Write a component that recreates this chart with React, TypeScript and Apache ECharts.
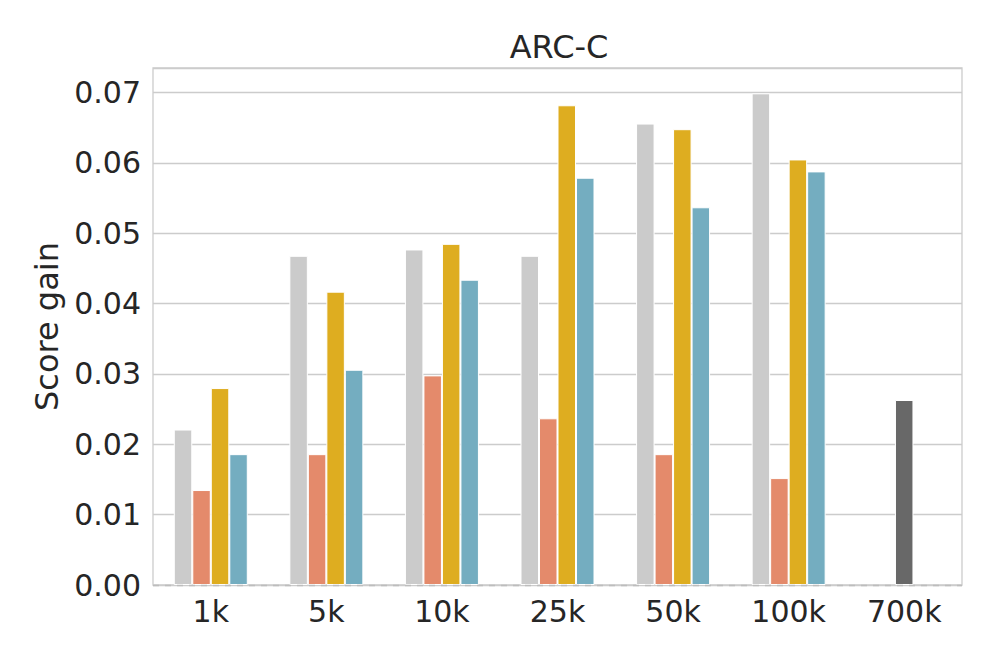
import React, { useEffect, useRef } from "react";
import * as echarts from "echarts";

const categories = ["1k", "5k", "10k", "25k", "50k", "100k", "700k"];
const grayValues = [0.0221, 0.0468, 0.0477, 0.0468, 0.0656, 0.0699, null];
const salmonValues = [0.0135, 0.0186, 0.0298, 0.0237, 0.0186, 0.0152, null];
const goldValues = [0.028, 0.0417, 0.0485, 0.0682, 0.0648, 0.0605, null];
const tealValues = [0.0186, 0.0306, 0.0434, 0.0579, 0.0537, 0.0588, null];
const darkValues = [null, null, null, null, null, null, 0.0263];
const yTicks = [0, 0.01, 0.02, 0.03, 0.04, 0.05, 0.06, 0.07];

const FONT = "DejaVu Sans";
const TEXT = "#262626";

export default function App() {
  const ref = useRef<HTMLDivElement>(null);
  useEffect(() => {
    if (!ref.current) return;
    const chart = echarts.init(ref.current, undefined, { renderer: "svg" });
    const barStyle = (color: string) => ({
      color,
      borderColor: "#ffffff",
      borderWidth: 1,
    });
    const mk = (name: string, data: (number | null)[], color: string) => ({
      name,
      type: "bar",
      data: data.map((v) => (v === null ? "-" : v)),
      barWidth: 18.5,
      barGap: "0%",
      itemStyle: barStyle(color),
      xAxisIndex: 0,
      z: 3,
    });
    chart.setOption({
      animation: false,
      title: {
        text: "ARC-C",
        left: 554,
        textAlign: "center",
        top: 26,
        textStyle: { fontFamily: FONT, fontSize: 32, fontWeight: "normal", color: TEXT },
      },
      grid: {
        left: 153,
        right: 35,
        top: 68,
        bottom: 79,
        show: true,
        borderColor: "#cccccc",
        borderWidth: 1.3,
        backgroundColor: "transparent",
      },
      xAxis: [
        {
          type: "category",
          data: categories,
          axisLine: { show: false },
          axisTick: { show: false },
          splitLine: { show: false },
          axisLabel: { fontFamily: FONT, fontSize: 30, color: TEXT, margin: 11 },
        },
        {
          type: "category",
          data: categories,
          position: "bottom",
          show: false,
        },
      ],
      yAxis: {
        type: "value",
        min: 0,
        max: 0.0735,
        interval: 0.01,
        name: "Score gain",
        nameLocation: "middle",
        nameGap: 89,
        nameTextStyle: { fontFamily: FONT, fontSize: 32, color: TEXT },
        axisLine: { show: false },
        axisTick: { show: false },
        splitLine: { lineStyle: { color: "#cccccc", width: 1.3 } },
        axisLabel: {
          fontFamily: FONT,
          fontSize: 30,
          color: TEXT,
          margin: 12,
          formatter: (v: number) => {
            const ok = yTicks.some((t) => Math.abs(t - v) < 1e-9);
            return ok ? v.toFixed(2) : "";
          },
        },
      },
      series: [
        {
          ...mk("gray", grayValues, "#cbcbcb"),
          markLine: {
            silent: true,
            symbol: "none",
            label: { show: false },
            lineStyle: { color: "#bdbdbd", type: [6, 6], width: 1.3 },
            data: [{ yAxis: 0 }],
          },
        },
        mk("salmon", salmonValues, "#e48a6b"),
        mk("gold", goldValues, "#dead20"),
        mk("teal", tealValues, "#74adc0"),
        {
          name: "dark",
          type: "bar",
          data: darkValues.map((v) => (v === null ? "-" : v)),
          barWidth: 18.5,
          xAxisIndex: 1,
          itemStyle: barStyle("#686868"),
          z: 3,
        },
      ],
    });
    return () => chart.dispose();
  }, []);
  return (
    <div
      ref={ref}
      style={{ width: 997, height: 664, position: "fixed", left: 0, top: 0, background: "#fff" }}
    />
  );
}
